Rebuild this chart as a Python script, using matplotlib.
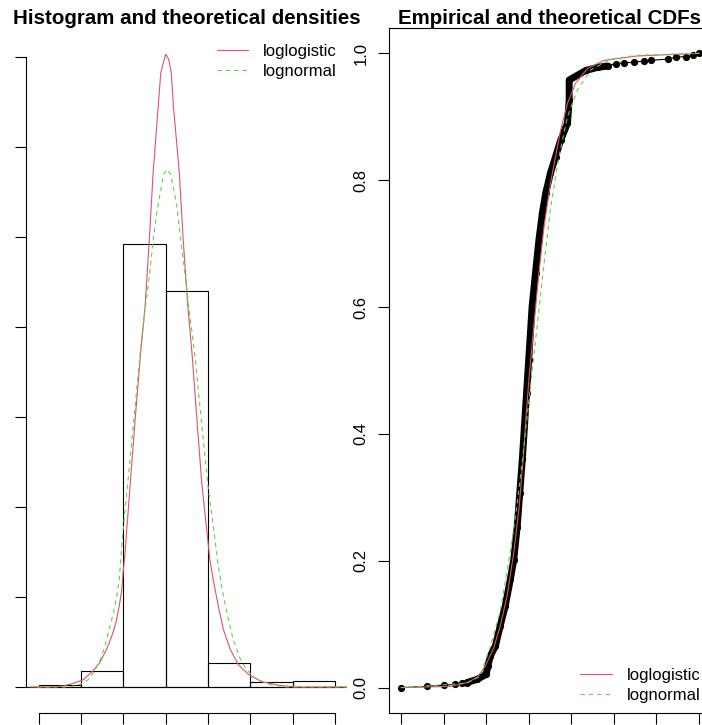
import numpy as np
import matplotlib
matplotlib.use("Agg")
import matplotlib.pyplot as plt

plt.rcParams["font.family"] = ["Liberation Sans", "DejaVu Sans"]

# histogram (density scale), bins of width 1
bin_edges = [0, 1, 2, 3, 4, 5, 6, 7]
bin_density = [0.002, 0.018, 0.4926, 0.440, 0.027, 0.0052, 0.0063]

# theoretical densities
dens_llogis_x = [-0.21, 0.26, 0.57, 0.81, 1.05, 1.28, 1.44, 1.60, 1.72, 1.82,
                 1.90, 1.96, 1.99, 2.03, 2.06, 2.16, 2.28, 2.41, 2.51, 2.61,
                 2.70, 2.82, 2.88, 2.96, 3.00, 3.07, 3.13, 3.18, 3.32, 3.41,
                 3.52, 3.62, 3.73, 3.85, 3.99, 4.04, 4.12, 4.24, 4.36, 4.52,
                 4.71, 4.95, 5.26, 5.66, 6.05, 6.52, 7.3]
dens_llogis_y = [0.0, 0.0, 0.001, 0.004, 0.008, 0.018, 0.027, 0.042, 0.056, 0.071,
                 0.090, 0.108, 0.127, 0.145, 0.164, 0.226, 0.300, 0.374, 0.423, 0.497,
                 0.571, 0.645, 0.682, 0.697, 0.703, 0.697, 0.682, 0.645, 0.571, 0.497,
                 0.423, 0.370, 0.300, 0.226, 0.164, 0.142, 0.119, 0.090, 0.064, 0.042,
                 0.025, 0.014, 0.006, 0.002, 0.0, 0.0, 0.0]
dens_lnorm_x = [-0.05, 0.42, 0.73, 0.97, 1.17, 1.32, 1.44, 1.56, 1.66, 1.76,
                1.84, 1.90, 1.94, 1.97, 2.10, 2.25, 2.40, 2.52, 2.62, 2.70,
                2.81, 2.88, 2.95, 3.03, 3.11, 3.19, 3.26, 3.35, 3.45, 3.54,
                3.69, 3.83, 3.99, 4.16, 4.24, 4.36, 4.48, 4.59, 4.75, 4.91,
                5.11, 5.42, 5.82, 6.52, 7.28]
dens_lnorm_y = [0.0, 0.0, 0.0, 0.003, 0.008, 0.018, 0.029, 0.045, 0.064, 0.082,
                0.101, 0.119, 0.145, 0.164, 0.226, 0.300, 0.374, 0.423, 0.460, 0.497,
                0.534, 0.552, 0.570, 0.575, 0.570, 0.552, 0.534, 0.497, 0.460, 0.423,
                0.367, 0.300, 0.226, 0.164, 0.134, 0.101, 0.075, 0.053, 0.032, 0.019,
                0.010, 0.003, 0.0, 0.0, 0.0]

# empirical cdf
ecdf_x = [0.0, 0.62, 1.01, 1.27, 1.43, 1.55, 1.79, 2.00, 2.04, 2.10,
          2.22, 2.33, 2.45, 2.57, 2.65, 2.73, 2.79, 2.85, 2.90, 2.95,
          3.00, 3.08, 3.16, 3.24, 3.32, 3.40, 3.51, 3.63, 3.75, 3.91,
          3.95, 3.95, 4.34, 4.62, 4.85, 5.05, 5.24, 5.48, 5.71, 5.87,
          6.27, 6.46, 6.70, 6.86, 7.0]
ecdf_y = [0.000, 0.002, 0.004, 0.005, 0.007, 0.008, 0.013, 0.021, 0.034, 0.050,
          0.066, 0.097, 0.129, 0.171, 0.202, 0.254, 0.307, 0.360, 0.412, 0.465,
          0.517, 0.601, 0.654, 0.706, 0.748, 0.780, 0.811, 0.837, 0.863, 0.890,
          0.926, 0.958, 0.973, 0.978, 0.980, 0.984, 0.985, 0.986, 0.988, 0.989,
          0.991, 0.994, 0.995, 0.997, 1.0]

# theoretical cdfs
cdf_llogis_x = [0.0, 1.16, 1.55, 1.79, 1.98, 2.18, 2.33, 2.49, 2.65, 2.77,
                2.87, 2.95, 3.01, 3.12, 3.24, 3.36, 3.51, 3.63, 3.75, 3.91,
                4.10, 4.38, 4.77, 5.56, 7.0]
cdf_llogis_y = [0.0, 0.002, 0.008, 0.016, 0.034, 0.063, 0.097, 0.144, 0.213, 0.281,
                0.360, 0.438, 0.490, 0.570, 0.654, 0.727, 0.795, 0.837, 0.879, 0.921,
                0.953, 0.976, 0.989, 0.996, 1.0]
cdf_lnorm_x = [0.0, 1.55, 1.86, 2.10, 2.33, 2.57, 2.73, 2.88, 3.00, 3.10,
               3.32, 3.51, 3.71, 3.91, 4.14, 4.46, 4.93, 5.56, 7.0]
cdf_lnorm_y = [0.0, 0.007, 0.018, 0.065, 0.120, 0.215, 0.290, 0.375, 0.450, 0.510,
               0.645, 0.755, 0.837, 0.900, 0.942, 0.974, 0.991, 0.997, 1.0]

names = ["loglogistic", "lognormal"]
RED = "#DF536B"
GREEN = "#61D04F"
LW = 0.8
DASH = (0, (4, 3.5))

fig = plt.figure(figsize=(7.02, 7.25), dpi=100)
W, H = 702.0, 725.0

# ---- left: histogram and densities
ax1 = fig.add_axes([25.7 / W, 12 / H, 321.3 / W, 685 / H])
ax1.bar(bin_edges[:-1], bin_density, width=1, align="edge", fill=False,
        edgecolor="black", linewidth=LW)
ax1.axhline(0, color="black", lw=LW)
ax1.plot(dens_llogis_x, dens_llogis_y, color=RED, lw=LW, label=names[0])
ax1.plot(dens_lnorm_x, dens_lnorm_y, color=GREEN, lw=LW, ls=DASH, label=names[1])
ax1.set_xlim(-0.31, 7.28)
ax1.set_ylim(-0.0289, 0.7322)
ax1.set_xticks(range(0, 8))
ax1.set_yticks(np.arange(0, 0.71, 0.1))
ax1.tick_params(labelleft=False, labelbottom=False)  # labels fall outside the picture
for s in ["top", "right"]:
    ax1.spines[s].set_visible(False)
ax1.spines["left"].set_bounds(0, 0.7)
ax1.spines["bottom"].set_bounds(0, 7)
ax1.set_title("Histogram and theoretical densities", fontsize=14.8, fontweight="bold", pad=2.5)
ax1.legend(loc="upper left", bbox_to_anchor=(0.594, 0.977), frameon=False, fontsize=12,
           handlelength=1.9, handletextpad=0.9, labelspacing=0.32, borderpad=0, borderaxespad=0)

# ---- right: cdfs
ax2 = fig.add_axes([389 / W, 12 / H, 322 / W, 685 / H])
ax2.plot(ecdf_x, ecdf_y, color="black", lw=LW)
thick = slice(5, 35)
ax2.plot(ecdf_x[thick], ecdf_y[thick], color="black", lw=5, solid_capstyle="round",
         solid_joinstyle="round")
ax2.plot(ecdf_x, ecdf_y, "o", color="black", ms=5.2, mew=0)
ax2.plot(cdf_llogis_x, cdf_llogis_y, color=RED, lw=LW, label=names[0])
ax2.plot(cdf_lnorm_x, cdf_lnorm_y, color=GREEN, lw=LW, ls=DASH, label=names[1])
ax2.set_xlim(-0.28, 7.28)
ax2.set_ylim(-0.04, 1.04)
ax2.set_xticks(range(0, 8))
ax2.set_yticks(np.arange(0, 1.01, 0.2))
ax2.set_yticklabels([f"{v:.1f}" for v in np.arange(0, 1.01, 0.2)], rotation=90, va="center")
ax2.tick_params(labelbottom=False)
ax2.set_title("Empirical and theoretical CDFs", fontsize=14.8, fontweight="bold", pad=2.5)
ax2.legend(loc="upper left", bbox_to_anchor=(0.593, 0.066), frameon=False, fontsize=12,
           handlelength=1.9, handletextpad=0.9, labelspacing=0.32, borderpad=0, borderaxespad=0)

for ax in (ax1, ax2):
    ax.tick_params(length=7.7, width=LW, labelsize=12, pad=7)
    for s in ax.spines.values():
        s.set_linewidth(LW)

fig.savefig("out.png", dpi=100)
